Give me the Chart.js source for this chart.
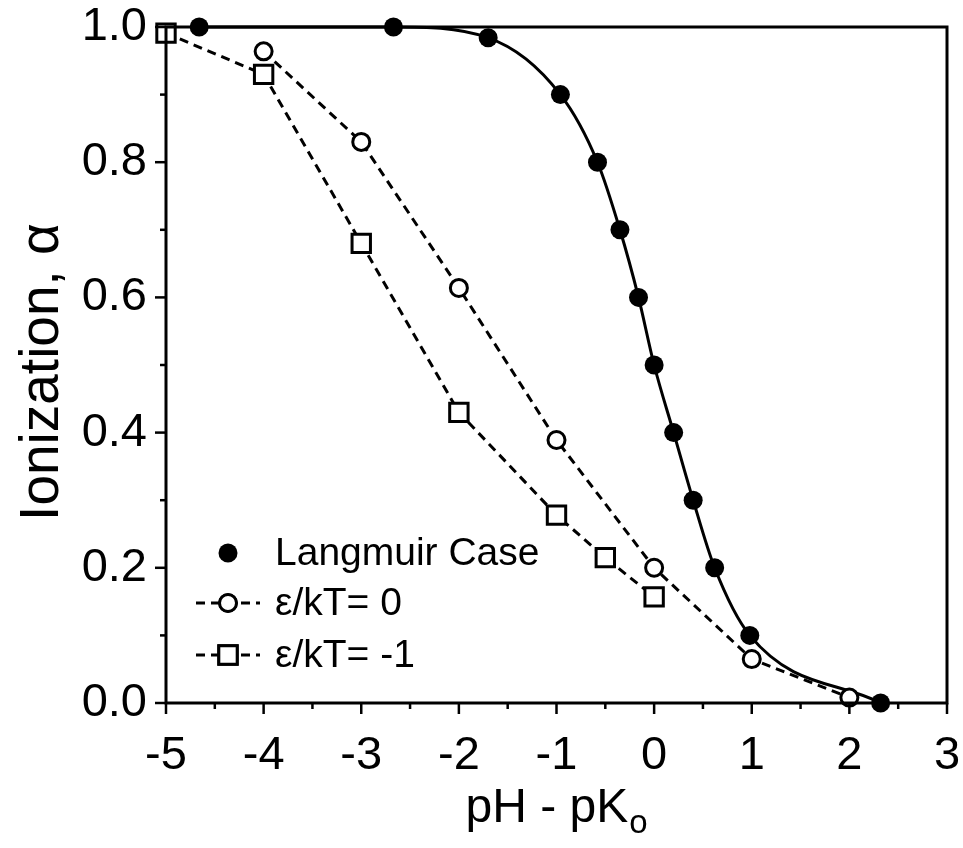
<!DOCTYPE html>
<html lang="en">

<head>
    <meta charset="UTF-8">
    <title>Ionization vs pH - pKo</title>
    <script src="https://cdn.jsdelivr.net/npm/chart.js"></script>
</head>

<body style="margin: 0; background: #fff;">

    <div style="width: 963px; height: 848px;">
        <canvas id="myChart"></canvas>
    </div>

    <script>
        // data
        const langmuirX = [-4.66, -2.67, -1.7, -0.96, -0.58, -0.35, -0.16, 0, 0.2, 0.4, 0.62, 0.98, 2.32];
        const langmuirY = [1.0, 1.0, 0.984, 0.9, 0.8, 0.7, 0.6, 0.5, 0.4, 0.3, 0.2, 0.1, 0.0];

        const eps0X = [-4, -3, -2, -1, 0, 1, 2];
        const eps0Y = [0.964, 0.83, 0.614, 0.389, 0.2, 0.065, 0.008];

        const epsM1X = [-5, -4, -3, -2, -1, -0.5, 0];
        const epsM1Y = [0.991, 0.93, 0.68, 0.43, 0.278, 0.215, 0.157];

        const seriesNames = ['Langmuir Case', 'ε/kT= 0', 'ε/kT= -1'];
        const xTicks = [-5, -4, -3, -2, -1, 0, 1, 2, 3];
        const yTicks = [0.0, 0.2, 0.4, 0.6, 0.8, 1.0];

        const toPoints = (xs, ys) => xs.map((x, i) => ({ x: x, y: ys[i] }));

        const FONT = "'Liberation Sans', Arial, Helvetica, sans-serif";

        // frame, tick marks, legend and axis titles
        const decorations = {
            id: 'decorations',
            afterDatasetsDraw(chart) {
                const { ctx, chartArea: a, scales: { x, y } } = chart;
                ctx.save();
                ctx.strokeStyle = '#000';
                ctx.lineWidth = 3;
                ctx.strokeRect(a.left, a.top, a.right - a.left, a.bottom - a.top);

                // x ticks, major each 1, minor each 0.5
                ctx.lineWidth = 2.5;
                for (let v = -5; v <= 3.001; v += 0.5) {
                    const px = x.getPixelForValue(v);
                    const len = Number.isInteger(v) ? 11 : 6;
                    ctx.beginPath();
                    ctx.moveTo(px, a.bottom);
                    ctx.lineTo(px, a.bottom + len);
                    ctx.stroke();
                }
                // y ticks, major each 0.2, minor each 0.1
                for (let i = 0; i <= 10; i++) {
                    const py = y.getPixelForValue(i / 10);
                    const len = i % 2 === 0 ? 11 : 6;
                    ctx.beginPath();
                    ctx.moveTo(a.left, py);
                    ctx.lineTo(a.left - len, py);
                    ctx.stroke();
                }

                // legend inside the plot
                const rows = [553, 603, 655];
                const showLine = [false, true, true];
                chart.data.datasets.forEach((ds, i) => {
                    const cy = rows[i];
                    if (showLine[i]) {
                        ctx.save();
                        ctx.lineWidth = ds.borderWidth;
                        ctx.setLineDash(ds.borderDash || []);
                        ctx.beginPath();
                        ctx.moveTo(196, cy);
                        ctx.lineTo(260, cy);
                        ctx.stroke();
                        ctx.restore();
                    }
                    Chart.helpers.drawPoint(ctx, {
                        pointStyle: ds.pointStyle,
                        radius: ds.pointRadius,
                        borderWidth: ds.pointBorderWidth,
                        rotation: 0
                    }, 228, cy);
                    ctx.fillStyle = ds.pointBackgroundColor;
                    ctx.strokeStyle = '#000';
                    ctx.lineWidth = ds.pointBorderWidth;
                    ctx.fill();
                    if (ds.pointBorderWidth) ctx.stroke();

                    ctx.fillStyle = '#000';
                    ctx.font = '39px ' + FONT;
                    ctx.textAlign = 'left';
                    ctx.textBaseline = 'middle';
                    ctx.fillText(ds.label, 275, cy + 1);
                });

                // axis titles
                ctx.fillStyle = '#000';
                ctx.font = '48px ' + FONT;
                ctx.textAlign = 'left';
                ctx.textBaseline = 'alphabetic';
                const main = 'pH - pK';
                const mainW = ctx.measureText(main).width;
                ctx.font = '33px ' + FONT;
                const subW = ctx.measureText('o').width;
                const startX = 556 - (mainW + subW) / 2;
                ctx.font = '48px ' + FONT;
                ctx.fillText(main, startX, 822);
                ctx.font = '33px ' + FONT;
                ctx.fillText('o', startX + mainW + 1, 833);

                ctx.translate(58, 372);
                ctx.rotate(-Math.PI / 2);
                ctx.font = '55px ' + FONT;
                ctx.textAlign = 'center';
                ctx.fillText('Ionization, α', 0, 0);
                ctx.restore();
            }
        };

        const ctx = document.getElementById('myChart');

        new Chart(ctx, {
            type: 'line',
            data: {
                datasets: [{
                    label: seriesNames[0],
                    data: toPoints(langmuirX, langmuirY),
                    borderColor: '#000',
                    borderWidth: 3,
                    tension: 0.4,
                    cubicInterpolationMode: 'monotone',
                    pointStyle: 'circle',
                    pointRadius: 9.5,
                    pointBorderWidth: 0,
                    pointBackgroundColor: '#000',
                    clip: false,
                    order: 3
                }, {
                    label: seriesNames[1],
                    data: toPoints(eps0X, eps0Y),
                    borderColor: '#000',
                    borderWidth: 3,
                    borderDash: [9, 6],
                    tension: 0,
                    pointStyle: 'circle',
                    pointRadius: 8.5,
                    pointBorderWidth: 3,
                    pointBorderColor: '#000',
                    pointBackgroundColor: '#fff',
                    clip: false,
                    order: 2
                }, {
                    label: seriesNames[2],
                    data: toPoints(epsM1X, epsM1Y),
                    borderColor: '#000',
                    borderWidth: 3,
                    borderDash: [9, 6],
                    tension: 0,
                    pointStyle: 'rect',
                    pointRadius: 13,
                    pointBorderWidth: 3,
                    pointBorderColor: '#000',
                    pointBackgroundColor: '#fff',
                    clip: false,
                    order: 1
                }]
            },
            options: {
                responsive: true,
                maintainAspectRatio: false,
                animation: false,
                layout: { padding: { top: 27, right: 16, bottom: 0, left: 0 } },
                plugins: {
                    legend: { display: false },
                    tooltip: { enabled: false }
                },
                scales: {
                    x: {
                        type: 'linear',
                        min: -5,
                        max: 3,
                        afterBuildTicks: (s) => { s.ticks = xTicks.map(v => ({ value: v })); },
                        afterFit: (s) => {
                            s.height = 145;
                            s.paddingLeft = 0; s.paddingRight = 0;
                            s.paddingTop = 0; s.paddingBottom = 0;
                        },
                        grid: { display: false, drawTicks: false },
                        border: { display: false },
                        ticks: {
                            color: '#000',
                            padding: 25,
                            font: { family: FONT, size: 47 },
                            callback: (v) => String(v)
                        }
                    },
                    y: {
                        type: 'linear',
                        min: 0,
                        max: 1,
                        afterBuildTicks: (s) => { s.ticks = yTicks.map(v => ({ value: v })); },
                        afterFit: (s) => {
                            s.width = 166;
                            s.paddingLeft = 0; s.paddingRight = 0;
                            s.paddingTop = 0; s.paddingBottom = 0;
                        },
                        grid: { display: false, drawTicks: false },
                        border: { display: false },
                        ticks: {
                            color: '#000',
                            padding: 19,
                            font: { family: FONT, size: 47 },
                            callback: (v) => Number(v).toFixed(1)
                        }
                    }
                }
            },
            plugins: [decorations]
        });
    </script>

</body>

</html>
